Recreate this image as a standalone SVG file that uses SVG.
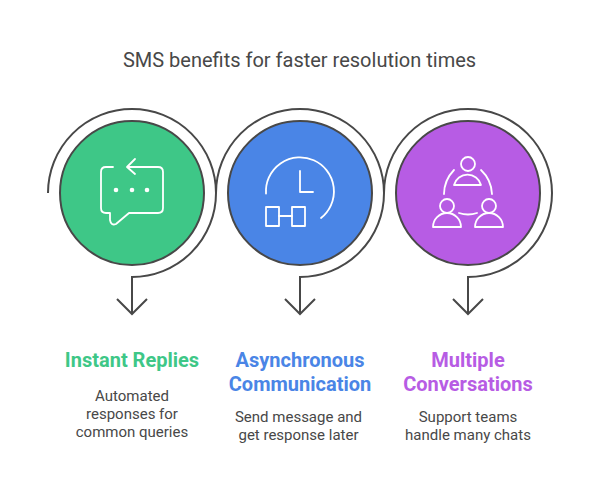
<svg xmlns="http://www.w3.org/2000/svg" width="599" height="492" viewBox="0 0 599 492">
<style>
.c{stroke:#484848;stroke-width:2}
.o{fill:none;stroke:#484848;stroke-width:2}
.i{fill:none;stroke:#fff;stroke-width:1.8;stroke-linecap:round;stroke-linejoin:round}
text{font-family:Roboto,"Liberation Sans",sans-serif;text-anchor:middle}
.h{font-size:20px;font-weight:700}
.b{font-size:15px;fill:#484848}
</style>
<rect width="599" height="492" fill="#fff"/>
<text id="title" x="299.5" y="67" font-size="20" fill="#484848">SMS benefits for faster resolution times</text>
<g id="connectors">
<path class="o" d="M48 193A84 84 0 1 1 132 277V314M117 299L132 314L147 299"/>
<path class="o" d="M216 193A84 84 0 1 1 300 277V314M285 299L300 314L315 299"/>
<path class="o" d="M384 193A84 84 0 1 1 468 277V314M453 299L468 314L483 299"/>
</g>
<g id="node1">
<circle class="c" cx="132" cy="193" r="72" fill="#3EC787"/>
<path class="i" d="M113 167H106Q101 167 101 172V208Q101 213 106 213H110V220Q111 226 116 224L129 213H158Q163 213 163 208V172Q163 167 158 167H128M135 159L127 167L135 174"/>
<circle cx="116" cy="190" r="2.300" fill="#fff"/><circle cx="132" cy="190" r="2.300" fill="#fff"/><circle cx="147" cy="190" r="2.300" fill="#fff"/>
<text class="h" x="132" y="367" fill="#3EC787">Instant Replies</text>
<text class="b" x="132" y="401">Automated</text>
<text class="b" x="132" y="419">responses for</text>
<text class="b" x="132" y="437">common queries</text>
</g>
<g id="node2">
<circle class="c" cx="300" cy="193" r="72" fill="#4A85E6"/>
<path class="i" d="M266 193.500A34 34 0 1 1 321 218M300 171V192H313"/>
<rect class="i" x="266" y="207" width="13" height="19"/><rect class="i" x="292" y="207" width="13" height="19"/>
<path class="i" d="M279 216H292"/>
<text class="h" x="300" y="367" fill="#4A85E6">Asynchronous</text>
<text class="h" x="300" y="391" fill="#4A85E6">Communication</text>
<text class="b" x="298.500" y="422">Send message and</text>
<text class="b" x="298.500" y="440">get response later</text>
</g>
<g id="node3">
<circle class="c" cx="468" cy="193" r="72" fill="#B75CE4"/>
<circle class="i" cx="468" cy="164" r="7"/>
<path class="i" d="M454 185A14 14 0 0 1 481 185ZM454 170A35 35 0 0 0 444 194M481 170A35 35 0 0 1 492 194M459 213Q468 216 477 213"/>
<circle class="i" cx="447" cy="206" r="7"/><circle class="i" cx="489" cy="206" r="7"/>
<path class="i" d="M433 227A14 14 0 0 1 461 227ZM475 227A14 14 0 0 1 503 227Z"/>
<text class="h" x="468" y="367" fill="#B75CE4">Multiple</text>
<text class="h" x="468" y="391" fill="#B75CE4">Conversations</text>
<text class="b" x="468" y="422">Support teams</text>
<text class="b" x="468" y="440">handle many chats</text>
</g>
</svg>
